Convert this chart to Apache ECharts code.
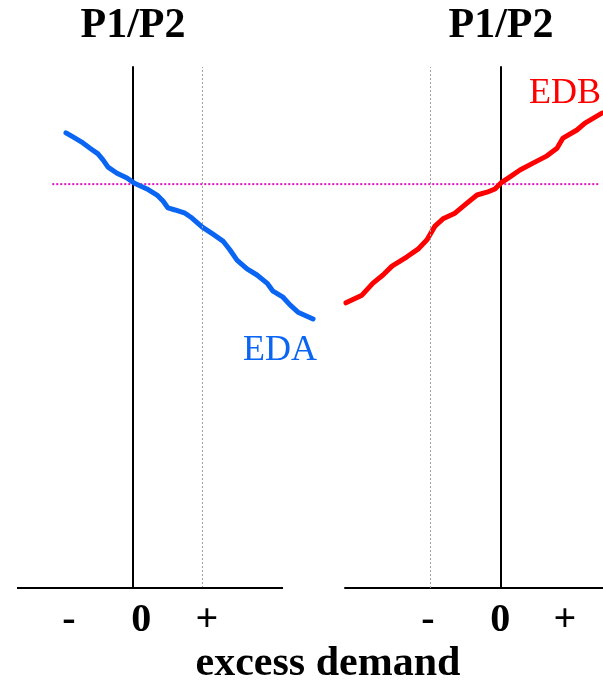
<!DOCTYPE html>
<html><head><meta charset="utf-8">
<script src="https://cdn.jsdelivr.net/npm/echarts@6/dist/echarts.min.js"></script>
<style>html,body{margin:0;padding:0;background:#fff}#c{width:603px;height:686px}</style>
</head><body><div id="c"></div>
<script>
const tickLabels = ['-', '0', '+'];
const leftTickPos = [-0.93, 0.12, 1.07];
const rightTickPos = [-1.03, -0.01, 0.90];
const edaX = [-0.971,-0.870,-0.725,-0.623,-0.507,-0.435,-0.362,-0.232,-0.087,0.014,0.203,0.348,0.435,0.507,0.609,0.754,0.855,1.000,1.159,1.304,1.406,1.507,1.652,1.797,1.942,2.029,2.174,2.275,2.391,2.609];
const edaY = [1.127,1.117,1.102,1.089,1.075,1.060,1.042,1.027,1.015,1.003,0.988,0.973,0.958,0.941,0.936,0.928,0.916,0.894,0.876,0.859,0.837,0.812,0.790,0.775,0.755,0.735,0.720,0.701,0.683,0.666];
const edbX = [-2.183,-1.958,-1.803,-1.662,-1.535,-1.324,-1.169,-1.042,-0.930,-0.817,-0.648,-0.479,-0.338,-0.197,-0.085,0.000,0.127,0.268,0.451,0.648,0.789,0.873,1.070,1.183,1.423];
const edbY = [0.706,0.725,0.755,0.775,0.797,0.820,0.839,0.862,0.896,0.914,0.928,0.953,0.973,0.980,0.988,1.003,1.018,1.035,1.052,1.070,1.089,1.114,1.134,1.151,1.176];
const eqPrice = 1.0;
const eqLineX = [-1.17, 6.77];
const leftAxisExtent = [-1.681, 2.174];
const panelTitle = 'P1/P2';
const xTitle = 'excess demand';

const SERIF = '"Liberation Serif", "Times New Roman", serif';
const BLUE = '#0a66f2';
const RED = '#ff0000';

function zip(xs, ys) { return xs.map((x, i) => [x, ys[i]]); }

function xAxisCfg(gridIndex, min, max, pos, showLine) {
  return {
    type: 'value', gridIndex, min, max,
    axisLine: { show: showLine, onZero: true, lineStyle: { color: '#000', width: 2 } },
    axisTick: { show: false },
    splitLine: { show: false },
    axisLabel: pos ? {
      show: true, customValues: pos, margin: 13,
      formatter: (v) => tickLabels[pos.indexOf(v)],
      fontFamily: SERIF, fontWeight: 'bold', fontSize: 40, color: '#000'
    } : { show: false }
  };
}
function yAxisCfg(gridIndex, withName) {
  return {
    type: 'value', gridIndex, min: 0, max: 1.29,
    name: withName ? panelTitle : '', nameLocation: 'end', nameGap: 20,
    nameTextStyle: { fontFamily: SERIF, fontWeight: 'bold', fontSize: 42, color: '#000', align: 'center' },
    axisLine: { show: withName, onZero: true, lineStyle: { color: '#000', width: 2 } },
    axisTick: { show: false }, axisLabel: { show: false }, splitLine: { show: false }
  };
}
const guideStyle = { color: '#a0a0a0', width: 1, type: [2, 2] };

const chart = echarts.init(document.getElementById('c'), null, { renderer: 'canvas' });
chart.setOption({
  animation: false,
  backgroundColor: '#fff',
  grid: [
    { left: 17, width: 303, top: 67, bottom: 98 },
    { left: 345, right: 0, top: 67, bottom: 98 },
    { left: 17, right: 0, top: 67, bottom: 98 }
  ],
  xAxis: [
    xAxisCfg(0, -1.681, 2.710, leftTickPos, false),
    xAxisCfg(1, -2.197, 1.437, rightTickPos, true),
    xAxisCfg(2, -1.681, 6.812, null, false)
  ],
  yAxis: [yAxisCfg(0, true), yAxisCfg(1, true), yAxisCfg(2, false)],
  series: [
    {
      name: 'eq', type: 'line', xAxisIndex: 2, yAxisIndex: 2, silent: true,
      symbol: 'none', data: eqLineX.map(x => [x, eqPrice]),
      lineStyle: { color: '#e010c0', width: 2, type: [2, 2] }, z: 1
    },
    {
      name: 'EDA', type: 'line', xAxisIndex: 0, yAxisIndex: 0,
      symbol: 'none', data: zip(edaX, edaY),
      lineStyle: { color: BLUE, width: 5, cap: 'round', join: 'round' },
      markLine: {
        silent: true, symbol: 'none', label: { show: false },
        data: [
          { xAxis: 1, lineStyle: guideStyle },
          [{ coord: [leftAxisExtent[0], 0], lineStyle: { color: '#000', width: 2, type: 'solid' } },
           { coord: [leftAxisExtent[1], 0] }]
        ]
      },
      z: 3
    },
    {
      name: 'EDB', type: 'line', xAxisIndex: 1, yAxisIndex: 1,
      symbol: 'none', data: zip(edbX, edbY),
      lineStyle: { color: RED, width: 5, cap: 'round', join: 'round' },
      markLine: {
        silent: true, symbol: 'none', label: { show: false },
        data: [{ xAxis: -1, lineStyle: guideStyle }]
      },
      z: 3
    }
  ],
  graphic: [
    { type: 'text', x: 328, y: 664, style: { text: xTitle, font: 'bold 42px ' + SERIF, fill: '#000', textAlign: 'center', textVerticalAlign: 'middle' } },
    { type: 'text', x: 280, y: 351, style: { text: 'EDA', font: '36px ' + SERIF, fill: BLUE, textAlign: 'center', textVerticalAlign: 'middle' } },
    { type: 'text', x: 565, y: 94, style: { text: 'EDB', font: '36px ' + SERIF, fill: RED, textAlign: 'center', textVerticalAlign: 'middle' } }
  ]
});
</script>
</body></html>
